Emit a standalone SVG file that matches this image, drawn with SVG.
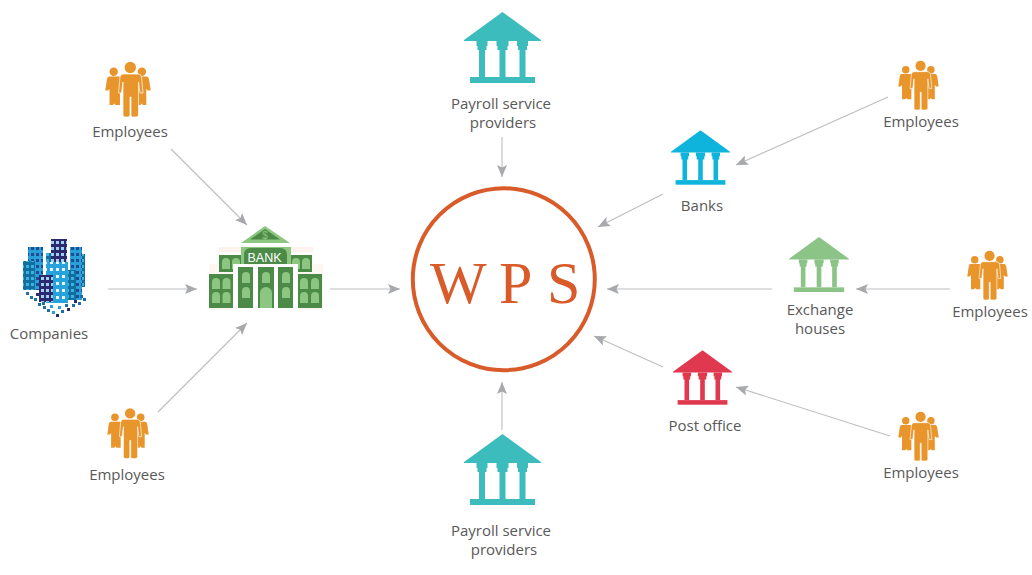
<svg xmlns="http://www.w3.org/2000/svg" width="1032" height="575" viewBox="0 0 1032 575">
<style>
.l{font-family:"Open Sans","Noto Sans","Liberation Sans",sans-serif;font-size:15px;fill:#595959;text-anchor:middle}
.c{fill:none;stroke:#bcbec0;stroke-width:1.1;marker-end:url(#a)}
.dk{fill:#4c8b47}.lt{fill:#8cc680}
</style>
<defs>
<marker id="a" markerUnits="userSpaceOnUse" markerWidth="14" markerHeight="12" refX="12" refY="6" orient="auto"><path d="M0 1 L12 6 L0 11 L2.500 6Z" fill="#a7a9ac"/></marker>
<symbol id="temple" viewBox="0 0 77 71" overflow="visible">
<path d="M38.500 0 L77 28 V29 H0 V28Z"/><path d="M12.500 29h11v5h-1v4h-1.500v27h-6V38h-1.500v-4h-1ZM32.500 29h12v5h-1v4h-2v27h-6V38h-2v-4h-1ZM53 29h11v5h-1v4h-1.500v27h-6V38H54v-4h-1Z"/><rect x="6" y="65" width="65" height="6"/>
</symbol>
<symbol id="people" viewBox="0 0 46 55" overflow="visible">
<g fill="#e8952b"><circle cx="25.300" cy="5.500" r="5.700"/><circle cx="8.700" cy="9.800" r="4.200"/><circle cx="36.900" cy="9.800" r="4.200"/>
<path d="M4 14.500H15V43H10.500L9.300 41.500L8 43H4.500V27L3 28.500H0.300L2 17Q2.500 14.500 4 14.500Z"/>
<path d="M41.700 14.500H31V43H35.500L36.700 41.500L38 43H41.300V27L42.800 28.500H45.700L44 17Q43.200 14.500 41.700 14.500Z"/>
<path stroke="#fff" stroke-width=".7" d="M18 12H33Q36 12 36.500 15L38 31H35L33.500 20V53Q33.500 55 31 55H27.500Q26 55 26 53V35H25V53Q25 55 23 55H20Q18 55 18 53V20L16.500 31H13.500L15 15Q15.500 12 18 12Z"/></g>
</symbol>
<pattern id="w1" width="5" height="6" patternUnits="userSpaceOnUse"><rect width="5" height="6" fill="#2a9fd8"/><rect x="1" y="1" width="3" height="3" fill="#1a4f96"/></pattern>
<pattern id="w2" width="5" height="6" patternUnits="userSpaceOnUse"><rect width="5" height="6" fill="#2b2a6e"/><rect x="1" y="1" width="3" height="3" fill="#9fd0ee"/></pattern>
<pattern id="w3" width="5" height="6" patternUnits="userSpaceOnUse"><rect width="5" height="6" fill="#0f6f9e"/><rect x="1" y="1" width="3" height="3" fill="#3fb0e0"/></pattern>
<pattern id="w4" width="6" height="7" patternUnits="userSpaceOnUse"><rect width="6" height="7" fill="#28a2dc"/><rect x="2" y="2" width="3" height="3" fill="#e9f6fc"/></pattern>
<path id="win" d="M0 4a4 4 0 0 1 8 0v7H0Z"/>
</defs>
<g id="connectors">
<path class="c" d="M171 149L247 225"/><path class="c" d="M108 289H197"/><path class="c" d="M158 412L247 323"/><path class="c" d="M330 289H400"/>
<path class="c" d="M502 137V177"/><path class="c" d="M502 430V382"/><path class="c" d="M663 194L598 227"/><path class="c" d="M888 97L736 165"/>
<path class="c" d="M772 289H607"/><path class="c" d="M950 289H856"/><path class="c" d="M663 367L594 336"/><path class="c" d="M890 436L736 387"/>
</g>
<g id="wps"><circle cx="503.800" cy="279.200" r="91" fill="none" stroke="#d95b2a" stroke-width="4"/>
<text x="430 499 547" y="303" font-family="'Liberation Serif',serif" font-size="60" fill="#d95b2a">WPS</text></g>
<g id="companies">
<rect x="46" y="253" width="6" height="9" fill="url(#w3)"/><rect x="51" y="239" width="16" height="24" fill="url(#w2)"/><rect x="28" y="247" width="15" height="43" fill="url(#w1)"/><rect x="23" y="261" width="12" height="29" fill="url(#w3)"/><rect x="82" y="254" width="3" height="33" fill="url(#w3)"/><rect x="70" y="247" width="12" height="53" fill="url(#w1)"/><rect x="46" y="262" width="22" height="41" fill="url(#w4)"/><rect x="39" y="275" width="14" height="27" fill="url(#w2)"/><rect x="68" y="270" width="8" height="30" fill="url(#w3)"/>
<g fill="#1f6fa8"><rect x="26" y="292" width="3" height="3"/><rect x="30" y="296" width="3" height="3"/><rect x="34" y="298" width="3" height="3"/><rect x="38" y="303" width="3" height="3"/><rect x="43" y="306" width="3" height="3"/><rect x="47" y="309" width="3" height="3"/><rect x="52" y="311" width="3" height="3" fill="#2a9fd8"/><rect x="56" y="314" width="3" height="3" fill="#2b2a6e"/><rect x="61" y="310" width="3" height="3"/><rect x="67" y="308" width="3" height="3" fill="#2b2a6e"/><rect x="72" y="304" width="3" height="3"/><rect x="78" y="302" width="3" height="3"/><rect x="83" y="298" width="3" height="3"/><rect x="36" y="293" width="3" height="3" fill="#2b2a6e"/><rect x="42" y="302" width="3" height="3"/><rect x="50" y="305" width="3" height="3" fill="#2a9fd8"/><rect x="58" y="306" width="3" height="3" fill="#2a9fd8"/><rect x="65" y="304" width="3" height="3"/><rect x="74" y="300" width="3" height="3" fill="#2b2a6e"/><rect x="80" y="295" width="3" height="3"/></g>
<text class="l" x="49" y="339">Companies</text></g>
<g id="bank">
<rect x="219" y="247" width="94" height="5" fill="#fdf3ec"/><rect x="209" y="264" width="114" height="46" fill="#fdf6f1"/>
<path class="lt" d="M265 226L290 243H241Z"/><path class="dk" d="M265 229L280 239.500H250Z"/>
<text x="265" y="238.500" font-family="'Liberation Sans',sans-serif" font-size="10" fill="#8cc680" text-anchor="middle">$</text>
<rect class="lt" x="241" y="247" width="50" height="18"/><path class="dk" d="M244 265V255q0-7 7-7H280q7 0 7 7V265Z"/>
<text x="264.500" y="261.500" font-family="'Liberation Sans',sans-serif" font-size="12.500" fill="#fff" text-anchor="middle">BANK</text>
<rect class="dk" x="219" y="255" width="22" height="17"/><rect class="dk" x="291" y="255" width="21" height="17"/>
<g class="lt"><use href="#win" x="222" y="258"/><use href="#win" x="232" y="258"/><use href="#win" x="292" y="258"/><use href="#win" x="302" y="258"/></g>
<rect x="233" y="264" width="65" height="46" fill="#fff"/>
<rect class="dk" x="209" y="274" width="24" height="34"/><rect class="dk" x="298" y="274" width="24" height="34"/><rect class="dk" x="238" y="267" width="15" height="41"/><rect class="dk" x="258" y="267" width="16" height="41"/><rect class="dk" x="278" y="267" width="15" height="41"/>
<g class="lt"><use href="#win" x="212" y="278"/><use href="#win" x="222.500" y="278"/><use href="#win" x="212" y="292"/><use href="#win" x="222.500" y="292"/><use href="#win" x="300" y="278"/><use href="#win" x="311" y="278"/><use href="#win" x="300" y="292"/><use href="#win" x="311" y="292"/><use href="#win" x="242" y="272"/><use href="#win" x="242" y="287"/><use href="#win" x="262" y="272"/><use href="#win" x="282" y="272"/><use href="#win" x="282" y="287"/><path d="M260 308V293a5.500 5.500 0 0 1 12 0V308Z"/></g>
</g>
<g id="emp-tl"><use href="#people" x="105" y="62" width="46" height="55"/><text class="l" x="130" y="137">Employees</text></g>
<g id="emp-bl"><use href="#people" x="107" y="407" width="42" height="53"/><text class="l" x="127" y="480">Employees</text></g>
<g id="emp-tr"><use href="#people" x="898" y="60" width="41" height="51"/><text class="l" x="921" y="127">Employees</text></g>
<g id="emp-r"><use href="#people" x="967" y="250" width="41" height="51"/><text class="l" x="990" y="317">Employees</text></g>
<g id="emp-br"><use href="#people" x="898" y="411" width="41" height="51"/><text class="l" x="921" y="478">Employees</text></g>
<g id="payroll-top" fill="#3dbcbd"><use href="#temple" x="464" y="12" width="77" height="71"/><text class="l" x="501" y="109">Payroll service</text><text class="l" x="503" y="128">providers</text></g>
<g id="payroll-bottom" fill="#3dbcbd"><use href="#temple" x="464" y="434" width="77" height="71"/><text class="l" x="501" y="536">Payroll service</text><text class="l" x="504" y="555">providers</text></g>
<g id="banks" fill="#0eb4dc"><use href="#temple" x="671" y="130" width="59" height="55"/><text class="l" x="702" y="211">Banks</text></g>
<g id="exchange" fill="#8cc487"><use href="#temple" x="789" y="237" width="60" height="55"/><text class="l" x="820" y="315">Exchange</text><text class="l" x="820" y="334">houses</text></g>
<g id="post" fill="#e0394f"><use href="#temple" x="673" y="350" width="59" height="55"/><text class="l" x="705" y="431">Post office</text></g>
</svg>
